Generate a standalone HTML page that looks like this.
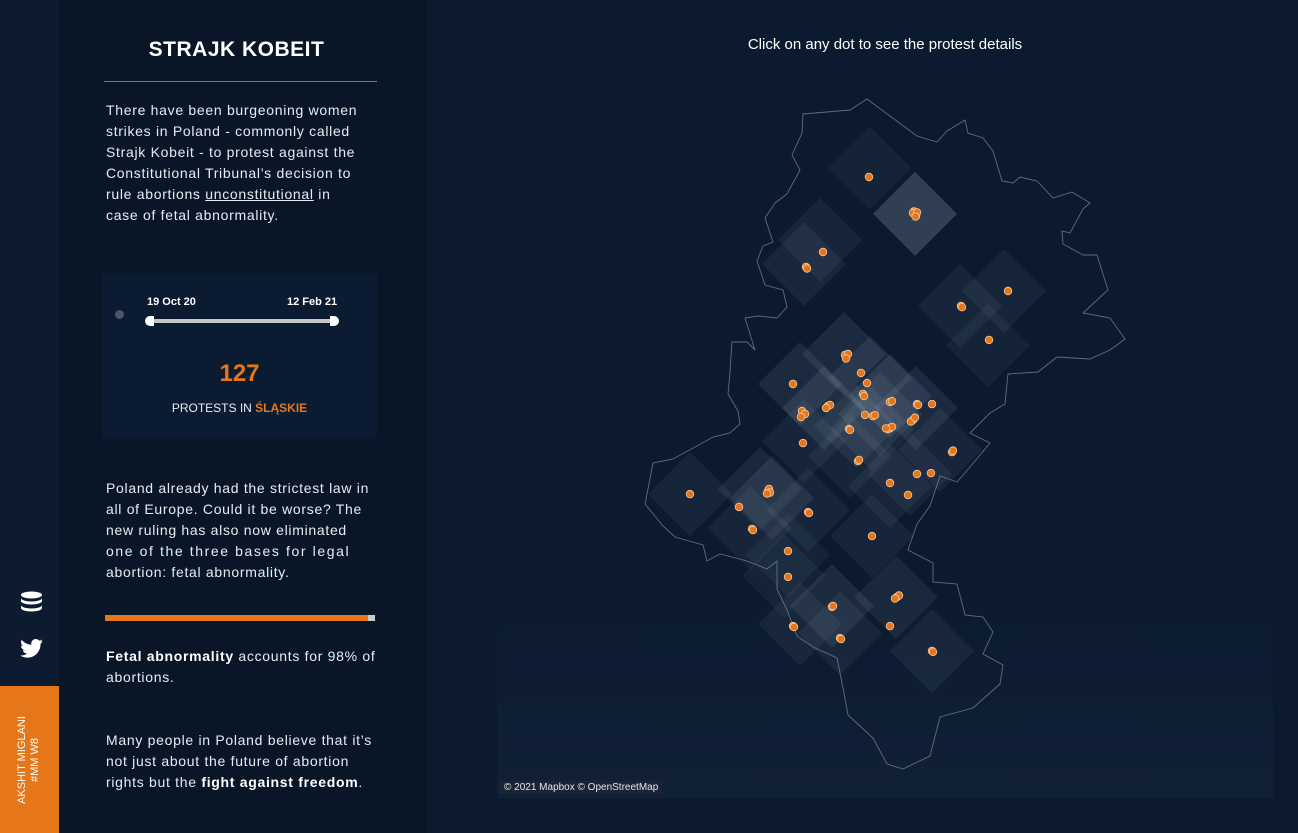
<!DOCTYPE html>
<html><head><meta charset="utf-8">
<style>
*{margin:0;padding:0;box-sizing:border-box}
body{width:1298px;height:833px;background:#0b1a2f;font-family:"Liberation Sans",sans-serif;color:#fff;position:relative;overflow:hidden}
.strip{position:absolute;left:0;top:0;width:59px;height:833px;background:#0c1b2f}
.panel{position:absolute;left:59px;top:0;width:368px;height:833px;background:#081627}
.txt{position:absolute;left:106px;width:290px;font-size:14px;line-height:21px;color:#e8ecf2;letter-spacing:0.7px;white-space:nowrap}
b{font-weight:bold;color:#fff}
</style></head><body>
<div class="strip"></div>
<div class="panel"></div>
<div style="position:absolute;left:100px;width:273px;top:38px;text-align:center;font-size:21px;font-weight:bold;letter-spacing:0.5px">STRAJK KOBEIT</div>
<div style="position:absolute;left:104px;top:81px;width:273px;height:1px;background:#6b7888"></div>
<div class="txt" style="top:100px">
<div>There have been burgeoning women</div><div>strikes in Poland - commonly called</div><div>Strajk Kobeit - to protest against the</div><div>Constitutional Tribunal’s decision to</div><div>rule abortions <u>unconstitutional</u> in</div><div>case of fetal abnormality.</div></div>
<div style="position:absolute;left:102px;top:273px;width:275px;height:164px;background:#0b1c32"></div>
<div style="position:absolute;left:147px;top:296px;font-size:11px;font-weight:bold">19 Oct 20</div>
<div style="position:absolute;left:287px;top:296px;font-size:11px;font-weight:bold">12 Feb 21</div>
<div style="position:absolute;left:115px;top:310px;width:9px;height:9px;border-radius:50%;background:#4a5666"></div>
<div style="position:absolute;left:149px;top:319px;width:186px;height:4px;background:#c3c6ca"></div>
<div style="position:absolute;left:145px;top:316px;width:9px;height:10px;border-radius:5px 0 0 5px;background:#fff"></div>
<div style="position:absolute;left:330px;top:316px;width:9px;height:10px;border-radius:0 5px 5px 0;background:#fff"></div>
<div style="position:absolute;left:102px;width:275px;top:360px;text-align:center;font-size:24px;font-weight:bold;color:#e5761a">127</div>
<div style="position:absolute;left:102px;width:275px;top:401px;text-align:center;font-size:12px;color:#e8ecf2">PROTESTS IN <span style="color:#e5761a;font-weight:bold">ŚLĄSKIE</span></div>
<div class="txt" style="top:478px">
<div>Poland already had the strictest law in</div><div>all of Europe. Could it be worse? The</div><div>new ruling has also now eliminated</div><div style="letter-spacing:1.6px">one of the three bases for legal</div><div>abortion: fetal abnormality.</div></div>
<div style="position:absolute;left:105px;top:615px;width:263px;height:6px;background:#e5761a"></div>
<div style="position:absolute;left:368px;top:615px;width:7px;height:6px;background:#c8ccd1"></div>
<div class="txt" style="top:646px"><div><b>Fetal abnormality</b> accounts for 98% of</div><div>abortions.</div></div>
<div class="txt" style="top:730px"><div>Many people in Poland believe that it’s</div><div>not just about the future of abortion</div><div>rights but the <b>fight against freedom</b>.</div></div>
<svg style="position:absolute;left:20px;top:591px" width="23" height="24"><ellipse cx="11.5" cy="4" rx="10.5" ry="3.5" fill="#fff"/><path d="M1 7v3c0 2 4.7 3.5 10.5 3.5S22 12 22 10V7c0 2-4.7 3.5-10.5 3.5S1 9 1 7zM1 14v3c0 2 4.7 3.5 10.5 3.5S22 19 22 17v-3c0 2-4.7 3.5-10.5 3.5S1 16 1 14z" fill="#fff"/></svg>
<svg style="position:absolute;left:20px;top:639px" width="23" height="19" viewBox="0 0 24 20"><path d="M24 2.4c-.9.4-1.8.6-2.8.8 1-.6 1.8-1.6 2.1-2.7-1 .6-2 1-3.1 1.2C19.3.7 18 0 16.6 0c-2.7 0-4.9 2.2-4.9 4.9 0 .4 0 .8.1 1.1C7.7 5.8 4.1 3.9 1.7.9c-.4.7-.7 1.6-.7 2.5 0 1.7.9 3.2 2.2 4.1-.8 0-1.6-.2-2.2-.6v.1c0 2.4 1.7 4.4 3.9 4.8-.4.1-.8.2-1.3.2-.3 0-.6 0-.9-.1.6 2 2.4 3.4 4.6 3.4-1.7 1.3-3.8 2.1-6.1 2.1H0c2.2 1.4 4.8 2.200 7.5 2.2 9.1 0 14-7.5 14-14v-.6c1-.7 1.8-1.6 2.5-2.6z" fill="#fff"/></svg>
<div style="position:absolute;left:0;top:686px;width:59px;height:147px;background:#e5761a"></div>
<div style="position:absolute;left:29px;top:760px;transform:translate(-50%,-50%) rotate(-90deg);font-size:11px;line-height:13px;text-align:center;white-space:nowrap;color:#fff">AKSHIT MIGLANI<br>#MM W8</div>
<div style="position:absolute;left:600px;width:570px;top:36px;text-align:center;font-size:15px;color:#fff">Click on any dot to see the protest details</div>
<svg id="map" style="position:absolute;left:0;top:0" width="1298" height="833">
<defs><linearGradient id="mt" x1="0" y1="0" x2="0" y2="1"><stop offset="0" stop-color="#1a2b42" stop-opacity="0"/><stop offset="1" stop-color="#1a2b42" stop-opacity="0.7"/></linearGradient></defs>
<rect x="497" y="580" width="776" height="218" fill="url(#mt)" opacity="0.5"/>
<g id="dia"></g>
<polygon id="outline" fill="none" stroke="#7d8898" stroke-opacity="0.75" stroke-width="0.9" points="803,114 850,110 867,99 890,116 917,136 937,142 947,131 965,120 968,133 983,138 993,151 1002,181 1013,183 1020,177 1037,181 1053,198 1072,192 1090,203 1083,209 1070,233 1062,231 1063,244 1083,255 1097,255 1108,290 1083,313 1110,318 1125,339 1110,350 1090,359 1057,357 1038,372 1008,374 1005,404 990,413 970,433 990,443 970,467 957,482 940,476 930,506 917,524 908,550 933,563 933,582 957,584 965,615 983,617 993,632 983,654 1003,665 1000,684 973,708 940,717 930,756 903,769 887,764 873,738 848,715 843,688 837,658 813,647 797,636 787,610 777,589 777,561 767,569 747,561 720,554 707,561 703,545 675,537 663,526 645,504 648,489 653,463 673,459 697,446 713,437 730,433 740,424 738,411 728,394 730,372 732,342 747,342 755,350 745,318 758,316 777,318 787,307 783,290 765,285 757,261 763,246 773,242 765,218 775,203 787,194 800,170 792,155 802,133"/>
<g id="dots"></g>
</svg>
<div style="position:absolute;left:500px;top:781px;padding:1px 4px;background:#1a2436;font-size:10px;color:#e6e6e6">© 2021 Mapbox © OpenStreetMap</div>
<script>
const lon=[18.845,19.075,19.07,19.08,19.065,19.085,19.078,18.615,18.530,18.535,19.305,19.31,19.540,19.445,18.725,18.74,18.73,18.805,18.835,18.465,18.815,18.82,18.515,18.51,18.525,18.505,18.640,18.65,18.63,18.950,18.96,19.085,19.09,19.160,18.825,18.865,18.875,19.065,19.055,19.075,18.745,18.75,18.950,18.94,18.96,18.93,18.515,18.790,18.795,19.260,19.265,19.085,19.155,18.950,19.040,17.950,18.340,18.345,18.35,18.335,18.195,18.540,18.545,18.260,18.265,18.860,18.440,18.440,18.660,18.665,18.985,18.995,18.975,18.465,18.47,18.700,18.705,18.950,19.160,19.165];
const lat=[50.910,50.787,50.795,50.78,50.79,50.792,50.778,50.660,50.610,50.605,50.480,50.476,50.530,50.367,50.317,50.32,50.305,50.257,50.223,50.220,50.187,50.18,50.123,50.13,50.12,50.11,50.147,50.15,50.14,50.160,50.163,50.153,50.15,50.153,50.117,50.113,50.116,50.100,50.095,50.108,50.070,50.067,50.073,50.07,50.077,50.072,50.023,49.963,49.967,49.993,49.998,49.920,49.923,49.890,49.850,49.853,49.863,49.87,49.858,49.855,49.810,49.793,49.79,49.737,49.733,49.713,49.663,49.577,49.477,49.48,49.510,49.515,49.505,49.413,49.41,49.373,49.37,49.413,49.330,49.327];
const hubLon=[18.845,19.075,18.60,18.52,19.30,19.52,19.44,18.72,18.85,18.50,18.62,18.95,19.08,18.78,18.86,18.75,18.52,19.2,19.05,18.95,17.95,18.30,18.36,18.25,18.54,18.86,18.44,18.42,18.66,18.98,18.50,18.70,19.16,18.9];
const hubLat=[50.94,50.787,50.70,50.62,50.48,50.53,50.35,50.32,50.24,50.22,50.14,50.18,50.14,50.08,50.07,49.98,50.03,50.0,49.92,49.88,49.853,49.87,49.84,49.74,49.80,49.713,49.65,49.58,49.48,49.51,49.42,49.39,49.33,50.12];
const hubW=[0.05,0.2,0.06,0.07,0.06,0.06,0.05,0.09,0.09,0.09,0.1,0.1,0.09,0.08,0.08,0.06,0.06,0.06,0.06,0.06,0.06,0.08,0.09,0.06,0.06,0.06,0.05,0.05,0.09,0.08,0.06,0.06,0.06,0.08];
const X=l=>700+(l-18)*200, Y=a=>150+(51-a)*300;
const ns="http://www.w3.org/2000/svg";
const dg=document.getElementById('dia'), gg=document.getElementById('dots');
hubLon.forEach((l,i)=>{const r=42,x=X(l),y=Y(hubLat[i]);
 const p=document.createElementNS(ns,'polygon');
 p.setAttribute('points',`${x},${y-r} ${x+r},${y} ${x},${y+r} ${x-r},${y}`);
 p.setAttribute('fill','#c8d6ea');p.setAttribute('fill-opacity',hubW[i]);
 
 
 dg.appendChild(p);});
lon.forEach((l,i)=>{const c=document.createElementNS(ns,'circle');
 c.setAttribute('cx',X(l));c.setAttribute('cy',Y(lat[i]));c.setAttribute('r',3.8);
 c.setAttribute('fill','#e5761a');c.setAttribute('stroke','#f2c8a0');c.setAttribute('stroke-width','0.8');
 
 
 gg.appendChild(c);});
</script>
</body></html>
